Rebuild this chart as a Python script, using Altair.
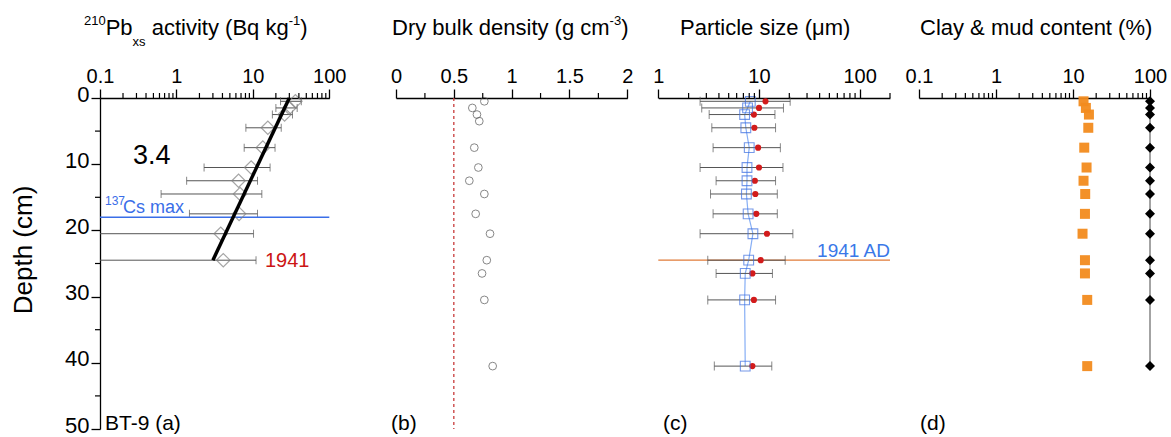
import altair as alt
import pandas as pd

# ---------------- data ----------------
# (a) excess 210Pb activity, Bq/kg
pb_depth = [0.5, 1.5, 2.5, 4.5, 7.5, 10.5, 12.5, 14.5, 17.5, 20.5, 24.5]
pb_act = [36, 30, 26, 15.7, 13.5, 9.5, 6.5, 6.8, 6.6, 3.8, 4.1]
pb_lo = [23, 20, 18, 8.1, 7.7, 2.3, 1.36, 0.63, 1.48, 0.1, 0.1]
pb_hi = [43, 38, 33, 23.5, 19.5, 16.8, 11.5, 13.1, 11.5, 10.2, 11.0]
fit_depth = [0, 24.5]
fit_act = [30, 3.0]
cs_max_depth = [18.0]

# (b) dry bulk density, g/cm3
dbd_depth = [0.5, 1.5, 2.5, 3.5, 7.5, 10.5, 12.5, 14.5, 17.5, 20.5, 24.5, 26.5, 30.5, 40.5]
dbd = [0.764, 0.66, 0.70, 0.72, 0.677, 0.712, 0.634, 0.764, 0.689, 0.813, 0.785, 0.744, 0.764, 0.836]
dbd_ref = [0.5]

# (c) particle size, um
ps_depth = [0.5, 1.5, 2.5, 4.5, 7.5, 10.5, 12.5, 14.5, 17.5, 20.5, 24.5, 26.5, 30.5, 40.5]
ps_median = [8.2, 7.7, 7.2, 7.4, 8.0, 7.6, 7.6, 7.5, 7.8, 8.7, 7.9, 7.3, 7.2, 7.3]
ps_mean = [11.6, 10.0, 8.9, 9.0, 9.8, 10.0, 9.1, 9.2, 9.4, 12.0, 10.4, 8.6, 8.9, 8.6]
ps_lo = [2.6, 2.7, 3.2, 3.4, 3.5, 2.6, 3.75, 3.3, 3.5, 2.6, 3.1, 3.75, 3.1, 3.6]
ps_hi = [20.4, 17.5, 14.4, 14.6, 16.3, 17.3, 14.6, 15.2, 15.2, 21.7, 18.2, 13.6, 14.6, 13.4]
ad1941_depth = [24.5]

# (d) clay and mud content, %
cm_depth = [0.5, 1.5, 2.5, 4.5, 7.5, 10.5, 12.5, 14.5, 17.5, 20.5, 24.5, 26.5, 30.5, 40.5]
clay = [13.7, 14.7, 16.1, 15.8, 14.0, 15.0, 13.7, 14.4, 14.3, 13.3, 14.3, 14.3, 15.3, 15.3]
mud = [100, 100, 100, 100, 100, 100, 100, 100, 100, 100, 100, 100, 100, 100]

# axis ticks
ticks_a = [0.1, 1, 10, 100]
minor_a = [0.2, 0.3, 0.4, 0.5, 0.6, 0.7, 0.8, 0.9, 2, 3, 4, 5, 6, 7, 8, 9,
           20, 30, 40, 50, 60, 70, 80, 90]
ticks_b = [0, 0.5, 1, 1.5, 2]
minor_b = [0.25, 0.75, 1.25, 1.75]
ticks_c = [1, 10, 100]
minor_c = [2, 3, 4, 5, 6, 7, 8, 9, 20, 30, 40, 50, 60, 70, 80, 90, 200]
ticks_d = [0.1, 1, 10, 100]
minor_d = minor_a
depth_ticks = [0, 10, 20, 30, 40, 50]
depth_minor = [5, 15, 25, 35, 45]

# ---------------- layout ----------------
FONT = "Liberation Sans"
W, H = 1071, 331
PAD = {"left": 100, "top": 98, "right": 0, "bottom": 8}

YS = alt.Scale(domain=[0, 50], reverse=True, nice=False, zero=False)
SA = alt.Scale(type="log", domain=[0.1, 100], range=[0, 229.3], nice=False)
SB = alt.Scale(type="linear", domain=[0, 2], range=[296, 527.3], nice=False, zero=False)
SC = alt.Scale(type="log", domain=[1, 200], range=[558.3, 790], nice=False)
SD = alt.Scale(type="log", domain=[0.1, 100], range=[819, 1050], nice=False)

GREY = "#555555"


def top_axis(values):
    return alt.Axis(orient="top", values=values, format="~g", title=None,
                    tickSize=9, tickWidth=1.3, domainWidth=1.3,
                    labelFontSize=20, labelPadding=3, labelFlush=False,
                    labelOverlap=False, labelBound=False, grid=False)


# the same depth axis is attached to every layer that encodes depth,
# so the shared y axis merges into a single left axis
Y_AXIS = alt.Axis(orient="left", values=depth_ticks, format="d", title=None,
                  tickSize=9, tickWidth=1.3, domainWidth=1.3, labelFontSize=22,
                  labelPadding=2, labelOffset=-4, labelFlush=False,
                  labelOverlap=False, grid=False)


def Y(field):
    return alt.Y(f"{field}:Q", scale=YS, axis=Y_AXIS)


def minor_ticks(values, scale):
    df = pd.DataFrame({"v": values})
    return alt.Chart(df).mark_rule(color="black", strokeWidth=1.2).encode(
        x=alt.X("v:Q", scale=scale, axis=None),
        y=alt.value(-5), y2=alt.value(0))


ADV = {" ": 278, "(": 333, ")": 333, "-": 333, ".": 278, "%": 889, "&": 667,
       "A": 667, "B": 667, "C": 722, "D": 722, "P": 667,
       "a": 556, "b": 556, "c": 500, "d": 556, "e": 556, "g": 556, "h": 556,
       "i": 222, "k": 500, "l": 222, "m": 833, "n": 556, "o": 556, "p": 556,
       "q": 556, "r": 333, "s": 500, "t": 278, "u": 556, "v": 500, "x": 500,
       "y": 500, "z": 500, "μ": 576}


def adv(s, size):
    return sum(ADV.get(ch, 556) for ch in s) * size / 1000


one = pd.DataFrame({"k": [0]})


def text(t, x, y, size, color="black", align="left", baseline="alphabetic", angle=None):
    kw = dict(text=t, font=FONT, fontSize=size, color=color, align=align, baseline=baseline)
    if angle:
        kw["angle"] = angle
    return alt.Chart(one).mark_text(**kw).encode(x=alt.value(x), y=alt.value(y))


ROLE = {"n": (22, -63.5), "sup": (13, -73), "sub": (13, -52)}


def rich(parts, x0):
    # lay the pieces out left to right; leading blanks become an x shift
    out, x = [], x0
    for s, role in parts:
        size, base = ROLE[role]
        lead = len(s) - len(s.lstrip(" "))
        x += adv(" " * lead, size)
        body = s.lstrip(" ")
        out.append(text(body, x, base, size))
        x += adv(body, size)
    return out


# ---------------- panel (a) ----------------
dfa = pd.DataFrame({"depth": pb_depth, "act": pb_act, "lo": pb_lo, "hi": pb_hi})
dfit = pd.DataFrame({"depth": fit_depth, "act": fit_act})
dcs = pd.DataFrame({"depth": cs_max_depth})

a_err = alt.Chart(dfa).mark_rule(color=GREY, strokeWidth=1).encode(
    x=alt.X("lo:Q", scale=SA, axis=top_axis(ticks_a)), x2="hi:Q", y=Y("depth"))
a_cap_lo = alt.Chart(dfa).transform_filter("datum.lo > 0.1").mark_tick(
    orient="vertical", size=8, thickness=1, color=GREY).encode(
    x=alt.X("lo:Q", scale=SA, axis=None), y=Y("depth"))
a_cap_hi = alt.Chart(dfa).mark_tick(orient="vertical", size=8, thickness=1, color=GREY).encode(
    x=alt.X("hi:Q", scale=SA, axis=None), y=Y("depth"))
a_cs = alt.Chart(dcs).mark_rule(color="#3a6ee8", strokeWidth=1.5).encode(
    x=alt.X(datum=0.1, type="quantitative", scale=SA, axis=None), x2=alt.X2(datum=100),
    y=Y("depth"))
a_pts = alt.Chart(dfa).mark_point(shape="diamond", size=180, filled=False,
                                  color="#808080", strokeWidth=1.2).encode(
    x=alt.X("act:Q", scale=SA, axis=None), y=Y("depth"))
a_fit = alt.Chart(dfit).mark_line(color="black", strokeWidth=3.5).encode(
    x=alt.X("act:Q", scale=SA, axis=None), y=Y("depth"), order="depth:Q")

# ---------------- panel (b) ----------------
dfb = pd.DataFrame({"depth": dbd_depth, "dbd": dbd})
b_ref = alt.Chart(pd.DataFrame({"v": dbd_ref})).mark_rule(
    color="#c83c3c", strokeDash=[3, 3], strokeWidth=1.3).encode(
    x=alt.X("v:Q", scale=SB, axis=None),
    y=alt.Y(datum=0, type="quantitative", scale=YS, axis=Y_AXIS), y2=alt.Y2(datum=50))
b_pts = alt.Chart(dfb).mark_point(shape="circle", size=60, filled=False,
                                  color="#555555", strokeWidth=1).encode(
    x=alt.X("dbd:Q", scale=SB, axis=top_axis(ticks_b)), y=Y("depth"))

# ---------------- panel (c) ----------------
dfc = pd.DataFrame({"depth": ps_depth, "med": ps_median, "mean": ps_mean,
                    "lo": ps_lo, "hi": ps_hi})
c_ad = alt.Chart(pd.DataFrame({"depth": ad1941_depth})).mark_rule(
    color="#e07b39", strokeWidth=1.3).encode(
    x=alt.X(datum=1, type="quantitative", scale=SC, axis=None), x2=alt.X2(datum=200),
    y=Y("depth"))
c_line = alt.Chart(dfc).mark_line(color="#86aef5", strokeWidth=1.2).encode(
    x=alt.X("med:Q", scale=SC, axis=None), y=Y("depth"), order="depth:Q")
c_err = alt.Chart(dfc).mark_rule(color=GREY, strokeWidth=1).encode(
    x=alt.X("lo:Q", scale=SC, axis=top_axis(ticks_c)), x2="hi:Q", y=Y("depth"))
c_cap_lo = alt.Chart(dfc).mark_tick(orient="vertical", size=9, thickness=1, color=GREY).encode(
    x=alt.X("lo:Q", scale=SC, axis=None), y=Y("depth"))
c_cap_hi = alt.Chart(dfc).mark_tick(orient="vertical", size=9, thickness=1, color=GREY).encode(
    x=alt.X("hi:Q", scale=SC, axis=None), y=Y("depth"))
c_dot = alt.Chart(dfc).mark_circle(size=38, color="#d21b1b", opacity=1).encode(
    x=alt.X("mean:Q", scale=SC, axis=None), y=Y("depth"))
c_sq = alt.Chart(dfc).mark_point(shape="square", size=95, filled=False,
                                 color="#3d6fe0", strokeWidth=1.1).encode(
    x=alt.X("med:Q", scale=SC, axis=None), y=Y("depth"))

# ---------------- panel (d) ----------------
dfd = pd.DataFrame({"depth": cm_depth, "clay": clay, "mud": mud})
d_line = alt.Chart(dfd).mark_line(color="#666666", strokeWidth=1.2).encode(
    x=alt.X("mud:Q", scale=SD, axis=top_axis(ticks_d)), y=Y("depth"), order="depth:Q")
d_mud = alt.Chart(dfd).mark_point(shape="diamond", size=100, filled=True,
                                  color="black", opacity=1).encode(
    x=alt.X("mud:Q", scale=SD, axis=None), y=Y("depth"))
d_clay = alt.Chart(dfd).mark_square(size=100, color="#f28b1e", opacity=0.95).encode(
    x=alt.X("clay:Q", scale=SD, axis=None), y=Y("depth"))

# depth minor ticks
y_minor = alt.Chart(pd.DataFrame({"d": depth_minor})).mark_rule(
    color="black", strokeWidth=1.2).encode(y=Y("d"), x=alt.value(-5), x2=alt.value(0))

# ---------------- annotations ----------------
notes = []
notes += rich([("210", "sup"), ("Pb", "n"), ("xs", "sub"),
               (" activity (Bq kg", "n"), ("-1", "sup"), (")", "n")], -16)
notes += rich([("Dry bulk density (g cm", "n"), ("-3", "sup"), (")", "n")], 292)
notes += rich([("Particle size (μm)", "n")], 580)
notes += rich([("Clay & mud content (%)", "n")], 820)

notes += [
    text("Depth (cm)", -76, 152, 26, align="center", baseline="middle", angle=270),
    text("3.4", 33, 66, 27),
    text("137", 5, 107, 12, color="#3a6ee8"),
    text("Cs max", 23, 114.5, 18, color="#3a6ee8"),
    text("1941", 165, 168.5, 20, color="#cc1515"),
    text("1941 AD", 790, 158.5, 19, color="#3a78e8", align="right"),
    text("BT-9 (a)", 5, 332, 21),
    text("(b)", 291, 332, 21),
    text("(c)", 563, 332, 21),
    text("(d)", 820, 332, 21),
]

layers = [a_err, a_cap_lo, a_cap_hi, a_cs, a_pts, a_fit,
          b_ref, b_pts,
          c_ad, c_line, c_err, c_cap_lo, c_cap_hi, c_dot, c_sq,
          d_line, d_mud, d_clay,
          minor_ticks(minor_a, SA), minor_ticks(minor_b, SB),
          minor_ticks(minor_c, SC), minor_ticks(minor_d, SD), y_minor] + notes

chart = (
    alt.layer(*layers)
    .resolve_scale(x="independent", y="shared")
    .resolve_axis(x="independent", y="shared")
    .properties(width=W, height=H, padding=PAD,
                autosize=alt.AutoSizeParams(type="none"))
    .configure_view(stroke=None)
    .configure_axis(labelFont=FONT, labelColor="black", domainColor="black",
                    tickColor="black", grid=False)
)

chart.save("out.html", embed_options={"renderer": "svg", "actions": False})
